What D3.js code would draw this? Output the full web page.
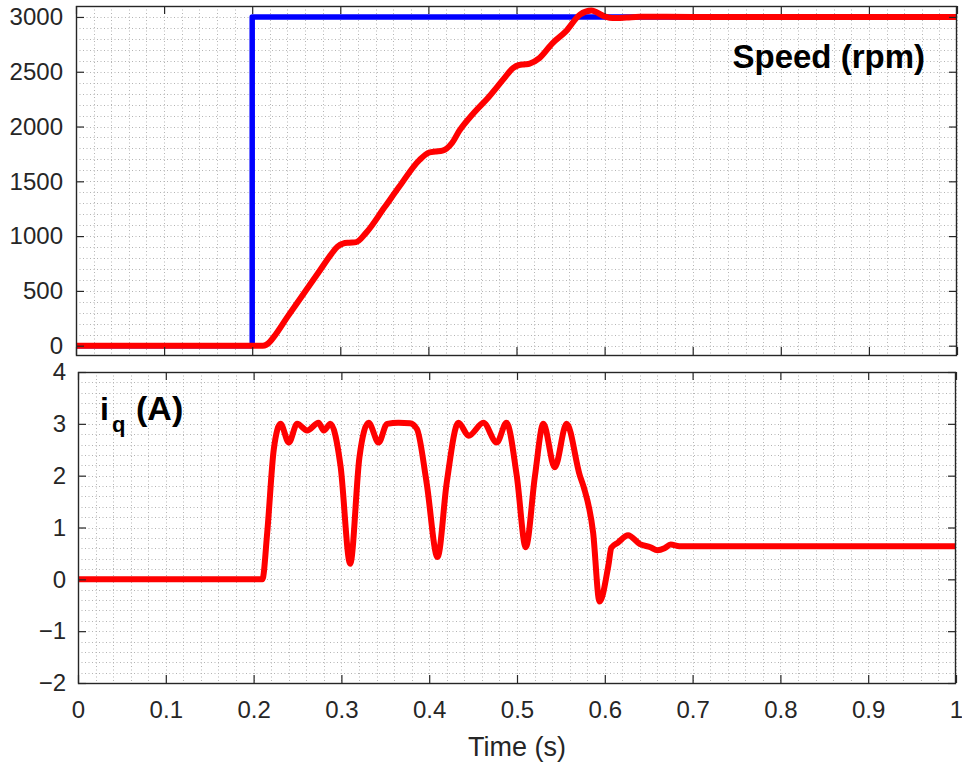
<!DOCTYPE html>
<html>
<head>
<meta charset="utf-8">
<script src="https://cdn.jsdelivr.net/npm/d3@7"></script>
<style>
  html, body { margin: 0; padding: 0; background: #fff; }
  svg { display: block; }
  text { font-family: "Liberation Sans", Arial, Helvetica, sans-serif; }
</style>
</head>
<body>
<svg id="chart" width="962" height="767"></svg>
<script>
// ---------- DATA ----------
const xTicks = [0, 0.1, 0.2, 0.3, 0.4, 0.5, 0.6, 0.7, 0.8, 0.9, 1];
const xTickLabels = ["0", "0.1", "0.2", "0.3", "0.4", "0.5", "0.6", "0.7", "0.8", "0.9", "1"];
const speedTicks = [0, 500, 1000, 1500, 2000, 2500, 3000];
const iqTicks = [-2, -1, 0, 1, 2, 3, 4];

// reference speed (blue)
const refT = [0, 0.2, 0.2, 1.0];
const refV = [0, 0, 3000, 3000];

// measured speed (red)
const speedT = [0, 0.212, 0.216, 0.22, 0.225, 0.24, 0.2534, 0.276, 0.29, 0.297, 0.303, 0.31, 0.318, 0.329, 0.35, 0.367, 0.39, 0.401, 0.408, 0.416, 0.427, 0.435, 0.45, 0.469, 0.485, 0.496, 0.503, 0.51, 0.515, 0.526, 0.541, 0.556, 0.572, 0.585, 0.6, 0.609, 0.625, 0.64, 0.7, 1.0];
const speedV = [0, 0, 8, 35, 85, 263, 417, 677, 838, 905, 932, 940, 945, 1027, 1260, 1452, 1696, 1763, 1772, 1780, 1852, 1960, 2110, 2274, 2430, 2534, 2562, 2568, 2575, 2625, 2762, 2868, 3021, 3058, 3005, 2990, 2995, 3002, 3000, 3000];

// q-axis current (red)
const iqT = [0, 0.21, 0.2155, 0.223, 0.2307, 0.2401, 0.2496, 0.261, 0.274, 0.280, 0.2875, 0.299, 0.310, 0.3205, 0.331, 0.3424, 0.352, 0.365, 0.378, 0.386, 0.397, 0.4095, 0.420, 0.4333, 0.445, 0.4617, 0.477, 0.488, 0.4997, 0.510, 0.5205, 0.530, 0.543, 0.5565, 0.5716, 0.576, 0.5867, 0.594, 0.604, 0.6075, 0.615, 0.6265, 0.64, 0.652, 0.66, 0.668, 0.675, 0.685, 0.70, 1.0];
const iqV = [0, 0, 0.9, 2.51, 3.0, 2.64, 3.0, 2.87, 3.02, 2.87, 3.0, 2.19, 0.3, 2.35, 3.02, 2.64, 3.0, 3.02, 3.01, 2.9, 1.87, 0.43, 1.87, 3.02, 2.77, 3.02, 2.64, 3.02, 2.0, 0.62, 2.0, 3.0, 2.16, 3.0, 2.0, 1.78, 0.9, -0.43, 0.26, 0.61, 0.71, 0.85, 0.68, 0.62, 0.56, 0.6, 0.67, 0.64, 0.64, 0.64];

// ---------- DRAW ----------
const svg = d3.select("#chart");
const axisColor = "#262626";
const gridColor = "#b4b4b4";

function panel(cfg) {
  const g = svg.append("g");
  const x = d3.scaleLinear().domain([0, 1]).range([cfg.left, cfg.right]);
  const y = d3.scaleLinear().domain(cfg.yDomain).range([cfg.bottom, cfg.top]);

  // minor dotted grid
  const gx = d3.range(0, 1.0001, 0.02);
  const gy = d3.range(cfg.gridStart, cfg.yDomain[1] + 1e-9, cfg.gridStep);
  const grid = g.append("g").attr("stroke", gridColor).attr("stroke-width", 1)
    .attr("stroke-dasharray", "1,2.5").attr("fill", "none");
  grid.selectAll("line.gx").data(gx).join("line")
    .attr("x1", d => Math.round(x(d)) + 0.5).attr("x2", d => Math.round(x(d)) + 0.5)
    .attr("y1", cfg.top).attr("y2", cfg.bottom);
  grid.selectAll("line.gy").data(gy).join("line")
    .attr("y1", d => Math.round(y(d)) + 0.5).attr("y2", d => Math.round(y(d)) + 0.5)
    .attr("x1", cfg.left).attr("x2", cfg.right);

  // clip
  const cid = "clip" + cfg.id;
  svg.append("defs").append("clipPath").attr("id", cid)
    .append("rect").attr("x", cfg.left).attr("y", cfg.top)
    .attr("width", cfg.right - cfg.left).attr("height", cfg.bottom - cfg.top);

  const lines = g.append("g").attr("clip-path", `url(#${cid})`);
  cfg.series.forEach(s => {
    const pts = s.t.map((t, i) => [t, s.v[i]]);
    const line = d3.line().x(d => x(d[0])).y(d => y(d[1])).curve(s.curve);
    lines.append("path").datum(pts)
      .attr("d", line)
      .attr("fill", "none")
      .attr("stroke", s.color)
      .attr("stroke-width", s.width)
      .attr("stroke-linejoin", "round")
      .attr("stroke-linecap", "butt");
  });

  // axes (ticks inward)
  const tickLen = 8;
  const axL = g.append("g").attr("transform", `translate(${cfg.left},0)`)
    .call(d3.axisLeft(y).tickValues(cfg.yTicks).tickSize(-tickLen).tickPadding(cfg.labelGap).tickFormat(d3.format("d")));
  const axR = g.append("g").attr("transform", `translate(${cfg.right},0)`)
    .call(d3.axisRight(y).tickValues(cfg.yTicks).tickSize(-tickLen).tickFormat(""));
  const axT = g.append("g").attr("transform", `translate(0,${cfg.top})`)
    .call(d3.axisTop(x).tickValues(xTicks).tickSize(-tickLen).tickFormat(""));
  const axB = g.append("g").attr("transform", `translate(0,${cfg.bottom})`)
    .call(d3.axisBottom(x).tickValues(xTicks).tickSize(-tickLen).tickPadding(18)
      .tickFormat(cfg.showX ? ((d, i) => xTickLabels[i]) : ""));

  [axL, axR, axT, axB].forEach(a => {
    a.select(".domain").remove();
    a.selectAll(".tick line").attr("stroke", axisColor).attr("stroke-width", 1.2);
    a.selectAll(".tick text").attr("fill", axisColor)
      .style("font-family", '"Liberation Sans", Arial, Helvetica, sans-serif')
      .style("font-size", "24px");
  });
  axB.selectAll(".tick text").attr("dy", "0.71em");

  // frame
  g.append("rect").attr("x", cfg.left + 0.5).attr("y", cfg.top + 0.5)
    .attr("width", cfg.right - cfg.left - 1).attr("height", cfg.bottom - cfg.top)
    .attr("fill", "none").attr("stroke", axisColor).attr("stroke-width", 1.4);
  return { x, y, g };
}

panel({
  id: "top", left: 76, right: 957, top: 6, bottom: 355,
  yDomain: [-85, 3100], yTicks: speedTicks, gridStart: 0, gridStep: 100,
  labelGap: 13, showX: false,
  series: [
    { t: refT, v: refV, color: "#0000ff", width: 5.5, curve: d3.curveLinear },
    { t: speedT, v: speedV, color: "#ff0000", width: 6, curve: d3.curveMonotoneX }
  ]
});

panel({
  id: "bot", left: 78, right: 956, top: 372, bottom: 683,
  yDomain: [-2, 4], yTicks: iqTicks, gridStart: -2, gridStep: 0.2,
  labelGap: 12, showX: true,
  series: [
    { t: iqT, v: iqV, color: "#ff0000", width: 6, curve: d3.curveMonotoneX }
  ]
});

// titles / labels
svg.append("text").attr("x", 925).attr("y", 68).attr("text-anchor", "end")
  .style("font-size", "33px").style("font-weight", "bold").attr("fill", "#000")
  .text("Speed (rpm)");

const iq = svg.append("text").attr("x", 100).attr("y", 420)
  .style("font-size", "32px").style("font-weight", "bold").attr("fill", "#000");
iq.append("tspan").text("i");
iq.append("tspan").attr("dx", 3).attr("dy", 12).style("font-size", "22px").text("q");
svg.append("text").attr("x", 136).attr("y", 420)
  .style("font-size", "34px").style("font-weight", "bold").attr("fill", "#000")
  .text("(A)");

svg.append("text").attr("x", 517).attr("y", 756).attr("text-anchor", "middle")
  .style("font-size", "27px").attr("fill", axisColor)
  .text("Time (s)");
</script>
</body>
</html>
